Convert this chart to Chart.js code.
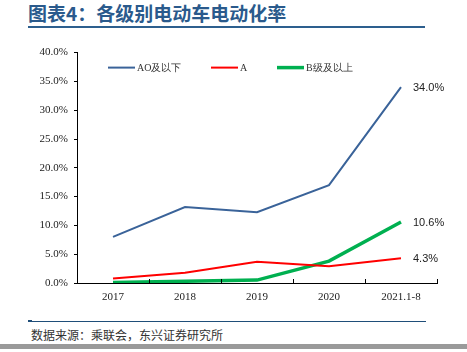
<!DOCTYPE html>
<html lang="zh">
<head>
<meta charset="UTF-8">
<title>各级别电动车电动化率</title>
<script src="https://cdn.jsdelivr.net/npm/chart.js"></script>
<style>
    body { margin: 0; width: 467px; height: 352px; background: #fff; position: relative; overflow: hidden; }
    .title { position: absolute; left: 28px; top: 0px; font: bold 19px "Noto Sans CJK SC", sans-serif; color: #2a5a8c; line-height: 26px; }
    .title-rule { position: absolute; left: 28px; top: 26px; width: 397px; height: 2px; background: #2d5f8e; }
    .chart-box { position: absolute; left: 0; top: 40px; width: 467px; height: 270px; }
    .foot-rule { position: absolute; left: 28px; top: 321px; width: 398px; height: 1px; background: #1f4e79; }
    .foot-dash { position: absolute; left: 28px; top: 320px; width: 4px; height: 2px; background: #1f4e79; }
    .source { position: absolute; left: 31px; top: 326px; font: 12px "Noto Sans CJK SC", sans-serif; color: #333; line-height: 17px; }
    .gray-bar { position: absolute; left: 0; top: 344px; width: 467px; height: 5px; background: #9a9a9a; }
</style>
</head>
<body>
    <div class="title">图表4：各级别电动车电动化率</div>
    <div class="title-rule"></div>
    <div class="chart-box"><canvas id="chart"></canvas></div>
    <div class="foot-dash"></div>
    <div class="foot-rule"></div>
    <div class="source">数据来源：乘联会，东兴证券研究所</div>
    <div class="gray-bar"></div>

<script>
    // data
    const years = ['2017', '2018', '2019', '2020', '2021.1-8'];
    const seriesNames = ['AO及以下', 'A', 'B级及以上'];
    const a0Below = [8.0, 13.2, 12.3, 17.0, 34.0];
    const aClass = [0.8, 1.8, 3.7, 2.9, 4.3];
    const bAbove = [0.1, 0.3, 0.5, 3.8, 10.6];
    const yTicks = [0, 5, 10, 15, 20, 25, 30, 35, 40];

    const colors = ['#3a6399', '#ff0000', '#00b050'];
    const widths = [2, 2, 3.5];

    // last-point labels, inward x ticks and the legend inside the plot
    const extras = {
        id: 'extras',
        afterDatasetsDraw(chart) {
            const ctx = chart.ctx;
            const x = chart.scales.x;
            const area = chart.chartArea;
            ctx.save();

            // x axis tick marks pointing up
            ctx.strokeStyle = '#000';
            ctx.lineWidth = 1;
            const step = x.getPixelForValue(1) - x.getPixelForValue(0);
            for (let i = 0; i <= years.length; i++) {
                const px = Math.round(x.getPixelForValue(0) - step / 2 + i * step) + 0.5;
                ctx.beginPath();
                ctx.moveTo(px, area.bottom);
                ctx.lineTo(px, area.bottom - 4);
                ctx.stroke();
            }

            // value labels at the end of each line
            ctx.font = '11px "Liberation Sans", Arial, sans-serif';
            ctx.fillStyle = '#222';
            ctx.textBaseline = 'middle';
            chart.data.datasets.forEach((ds, i) => {
                const meta = chart.getDatasetMeta(i);
                const pt = meta.data[meta.data.length - 1];
                const v = ds.data[ds.data.length - 1];
                ctx.fillText(v.toFixed(1) + '%', pt.x + 12, pt.y + 1);
            });

            // legend
            const legX = [108, 211, 277];
            const legY = area.top + 15;
            ctx.font = '10px "Liberation Serif", "Times New Roman", serif';
            ctx.fillStyle = '#333';
            chart.data.datasets.forEach((ds, i) => {
                ctx.strokeStyle = colors[i];
                ctx.lineWidth = widths[i];
                ctx.beginPath();
                ctx.moveTo(legX[i], legY);
                ctx.lineTo(legX[i] + 27, legY);
                ctx.stroke();
                ctx.fillText(ds.label, legX[i] + 29, legY + 1);
            });
            ctx.restore();
        }
    };

    new Chart(document.getElementById('chart'), {
        type: 'line',
        data: {
            labels: years,
            datasets: [a0Below, aClass, bAbove].map((d, i) => ({
                label: seriesNames[i],
                data: d,
                borderColor: colors[i],
                borderWidth: widths[i],
                pointRadius: 0,
                tension: 0,
                fill: false
            }))
        },
        options: {
            responsive: true,
            maintainAspectRatio: false,
            animation: false,
            layout: { padding: { left: 0, right: 30, top: 10, bottom: 0 } },
            plugins: { legend: { display: false }, tooltip: { enabled: false } },
            scales: {
                x: {
                    offset: true,
                    grid: { drawOnChartArea: false, drawTicks: false },
                    border: { color: '#000', width: 1 },
                    ticks: {
                        padding: 8,
                        color: '#222',
                        font: { family: '"Liberation Serif", "Times New Roman", serif', size: 11 }
                    },
                    afterFit(scale) { scale.height = 27; }
                },
                y: {
                    min: 0,
                    max: 40,
                    afterBuildTicks(scale) { scale.ticks = yTicks.map(v => ({ value: v })); },
                    grid: { drawOnChartArea: false, tickLength: 3, color: '#000' },
                    border: { color: '#000', width: 1 },
                    ticks: {
                        padding: 6,
                        color: '#222',
                        font: { family: '"Liberation Serif", "Times New Roman", serif', size: 11 },
                        callback: v => v.toFixed(1) + '%'
                    },
                    afterFit(scale) { scale.width = 77; }
                }
            }
        },
        plugins: [extras]
    });
</script>
</body>
</html>
